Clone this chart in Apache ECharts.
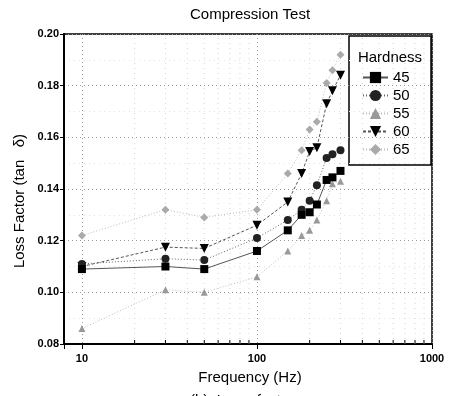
<!DOCTYPE html>
<html>
<head>
<meta charset="utf-8">
<script src="https://cdn.jsdelivr.net/npm/echarts@6/dist/echarts.min.js"></script>
<style>html,body{margin:0;padding:0;background:#fff;}#c{width:453px;height:396px;}</style>
</head>
<body>
<div id="c"></div>
<script>
var freqs = [10, 30, 50, 100, 150, 180, 200, 220, 250, 270, 300];
var h45 = [0.109, 0.110, 0.109, 0.116, 0.124, 0.130, 0.131, 0.134, 0.1435, 0.1445, 0.147];
var h50 = [0.111, 0.113, 0.1125, 0.121, 0.128, 0.132, 0.1355, 0.1415, 0.152, 0.1535, 0.155];
var h55 = [0.086, 0.101, 0.100, 0.106, 0.116, 0.122, 0.124, 0.128, 0.1355, 0.142, 0.143];
var h60 = [0.110, 0.1175, 0.117, 0.126, 0.135, 0.146, 0.1545, 0.156, 0.173, 0.178, 0.184];
var h65 = [0.122, 0.132, 0.129, 0.132, 0.146, 0.155, 0.163, 0.166, 0.181, 0.186, 0.192];
var seriesNames = ['45', '50', '55', '60', '65'];
var minorFreqs = [20, 30, 40, 50, 60, 70, 80, 90, 200, 300, 400, 500, 600, 700, 800, 900];
var majorFreqLabels = [10, 100, 1000];

var FONT = '"Liberation Sans", Arial, Helvetica, sans-serif';
function pairs(ys) { return freqs.map(function (f, i) { return [f, ys[i]]; }); }

var chart = echarts.init(document.getElementById('c'), null, {renderer: 'canvas'});

function lineSeries(name, ys, symbol, size, color, lineColor, lineType, z) {
  return {
    name: name, type: 'line', data: pairs(ys), z: z,
    symbol: symbol, symbolSize: size,
    itemStyle: {color: color},
    lineStyle: {color: lineColor, width: 1, type: lineType},
    emphasis: {disabled: true}, animation: false
  };
}

var option = {
  animation: false,
  grid: {left: 64, right: 21, top: 34, bottom: 52, show: true, borderColor: '#000', borderWidth: 1.5},
  xAxis: {
    type: 'log', logBase: 10, min: 7.9, max: 1000,
    axisLine: {lineStyle: {color: '#000', width: 2}},
    axisTick: {show: true, length: 5, lineStyle: {color: '#000', width: 1}},
    axisLabel: {
      fontFamily: FONT, fontSize: 11, fontWeight: 'bold', color: '#000', margin: 9,
      showMinLabel: true,
      formatter: function (v) {
        for (var i = 0; i < majorFreqLabels.length; i++) {
          if (Math.abs(v - majorFreqLabels[i]) < 1e-6 * majorFreqLabels[i]) return String(majorFreqLabels[i]);
        }
        return '';
      }
    },
    splitLine: {show: true, lineStyle: {color: '#999', type: [1, 3], width: 1}}
  },
  yAxis: {
    type: 'value', min: 0.08, max: 0.20, interval: 0.02,
    axisLine: {show: true, lineStyle: {color: '#000', width: 2}},
    axisTick: {show: true, length: 4, lineStyle: {color: '#000'}},
    axisLabel: {
      fontFamily: FONT, fontSize: 11, fontWeight: 'bold', color: '#000', margin: 5,
      formatter: function (v) { return v.toFixed(2); }
    },
    splitLine: {show: true, lineStyle: {color: '#999', type: [1, 3], width: 1}},
    minorTick: {show: false, splitNumber: 2},
    minorSplitLine: {show: true, lineStyle: {color: '#e2e2e2', type: [1, 4], width: 1}}
  },
  legend: {
    orient: 'vertical', left: 357, top: 65, itemWidth: 25, itemHeight: 14, itemGap: 3,
    textStyle: {fontFamily: FONT, fontSize: 15, color: '#000', lineHeight: 14},
    data: seriesNames, selectedMode: false
  },
  series: [
    {
      type: 'custom', silent: true, z: 1,
      data: minorFreqs.map(function (f) { return [f]; }),
      encode: {x: 0},
      renderItem: function (params, api) {
        var v = api.value(0);
        var pb = api.coord([v, 0.08]);
        var pt = api.coord([v, 0.20]);
        return {
          type: 'group',
          children: [
            {type: 'line', shape: {x1: pb[0], y1: pb[1], x2: pt[0], y2: pt[1]},
             style: {stroke: '#d4d4d4', lineWidth: 1, lineDash: [1, 4]}},
            {type: 'line', shape: {x1: pb[0], y1: pb[1], x2: pb[0], y2: pb[1] - 4},
             style: {stroke: '#000', lineWidth: 1}}
          ]
        };
      }
    },
    lineSeries('45', h45, 'rect', 8, '#000', '#555', 'solid', 5),
    lineSeries('50', h50, 'circle', 8, '#222', '#666', [1, 2], 4),
    lineSeries('55', h55, 'triangle', 7, '#999', '#bbb', [1, 2], 3),
    lineSeries('60', h60, 'path://M0,0L10,0L5,9Z', 9, '#000', '#555', [3, 2], 3),
    lineSeries('65', h65, 'diamond', 8, '#aaa', '#bbb', [1, 2], 2)
  ],
  graphic: [
    {type: 'text', left: 250 - 60, top: 7, style: {text: 'Compression Test', font: '15px ' + FONT, fill: '#000'}},
    {type: 'text', x: 250, y: 378, style: {text: 'Frequency (Hz)', font: '15px ' + FONT, fill: '#000', textAlign: 'center', textVerticalAlign: 'middle'}},
    {type: 'text', x: 20, y: 201, rotation: Math.PI / 2, style: {text: 'Loss Factor (tan   \u03b4)', font: '15px ' + FONT, fill: '#000', textAlign: 'center', textVerticalAlign: 'middle'}},
    {type: 'text', x: 190, y: 393, style: {text: '(b)  Loss  factor', font: '15px ' + FONT, fill: '#000', textVerticalAlign: 'top'}},
    {type: 'rect', z: 0, shape: {x: 349, y: 36, width: 82, height: 129}, style: {fill: '#fff', stroke: '#000', lineWidth: 1.5}},
    {type: 'text', z: 1, x: 390, y: 58, style: {text: 'Hardness', font: '15px ' + FONT, fill: '#000', textAlign: 'center', textVerticalAlign: 'middle'}}
  ]
};
chart.setOption(option);
</script>
</body>
</html>
